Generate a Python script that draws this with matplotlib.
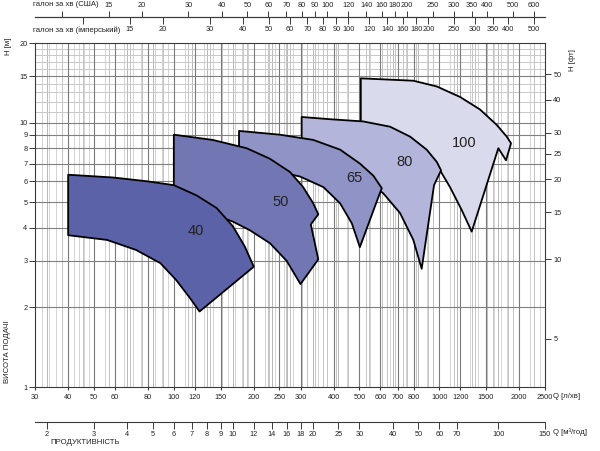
import matplotlib
matplotlib.use("Agg")
import matplotlib.pyplot as plt
from matplotlib.ticker import NullLocator

plt.rcParams['font.family'] = ['Liberation Sans', 'DejaVu Sans']

# unit conversions
L_PER_USGAL = 3.78541
L_PER_IMPGAL = 4.54609
LMIN_PER_M3H = 1000 / 60
FT_PER_M = 3.28084

# pump regions: Q [l/min], H [m], outline from top-left corner clockwise
q_40 = [40, 59, 79, 100, 122, 145, 167, 185, 200, 125, 115, 102, 89, 72, 56, 40]
h_40 = [6.35, 6.2, 6.0, 5.8, 5.3, 4.75, 4.05, 3.4, 2.85, 1.93, 2.17, 2.54, 2.94, 3.3, 3.6, 3.75]

q_50 = [100, 140, 188, 230, 274, 307, 335, 350, 328, 350, 300, 266, 230, 193, 167, 125, 100]
h_50 = [9.0, 8.6, 8.0, 7.3, 6.5, 5.7, 4.95, 4.5, 4.12, 3.04, 2.45, 3.0, 3.5, 3.92, 4.22, 4.7, 5.1]

q_65 = [176, 251, 335, 423, 502, 564, 607, 584, 502, 468, 423, 366, 299, 251, 176]
h_65 = [9.3, 9.0, 8.6, 7.9, 7.0, 6.3, 5.65, 5.1, 3.38, 4.16, 4.95, 5.7, 6.25, 6.5, 6.9]

q_80 = [303, 387, 517, 652, 776, 896, 978, 1015, 955, 858, 798, 711, 615, 548, 423, 303]
h_80 = [10.5, 10.3, 10.1, 9.65, 8.85, 7.9, 7.1, 6.6, 5.8, 2.8, 3.6, 4.55, 5.4, 5.9, 6.4, 6.9]

q_100 = [506, 798, 978, 1197, 1424, 1645, 1794, 1862, 1783, 1668, 1324, 1214, 1097, 1006, 711, 506]
h_100 = [14.7, 14.4, 13.7, 12.5, 11.2, 9.8, 8.85, 8.35, 7.2, 8.0, 3.87, 4.67, 5.7, 6.6, 7.2, 7.9]

pump_names = ["100", "80", "65", "50", "40"]
pump_q = [q_100, q_80, q_65, q_50, q_40]
pump_h = [h_100, h_80, h_65, h_50, h_40]
pump_colors = ["#D9DAEC", "#B4B5DA", "#9093C5", "#7277B4", "#5B62A8"]
label_q = [1240, 742, 477, 253, 121]
label_h = [8.4, 7.1, 6.15, 5.0, 3.9]

# axis ticks
q_ticks = [30, 40, 50, 60, 80, 100, 120, 150, 200, 250, 300, 400, 500, 600, 700, 800,
           1000, 1200, 1500, 2000, 2500]
h_ticks = [1, 2, 3, 4, 5, 6, 7, 8, 9, 10, 15, 20]
ft_ticks = [5, 10, 15, 20, 25, 30, 40, 50]
m3h_ticks = [2, 3, 4, 5, 6, 7, 8, 9, 10, 12, 14, 16, 18, 20, 25, 30, 40, 50, 60, 70, 100, 150]
usgal_ticks = [10, 15, 20, 30, 40, 50, 60, 70, 80, 90, 100, 120, 140, 160, 180, 200,
               250, 300, 350, 400, 500, 600]
impgal_ticks = [10, 15, 20, 30, 40, 50, 60, 70, 80, 90, 100, 120, 140, 160, 180, 200,
                250, 300, 350, 400, 500]

# grid lines
grid_q_light = [32, 34, 36, 38, 42, 44, 46, 48, 55, 65, 70, 75, 85, 90, 95, 110, 130, 140,
                160, 170, 180, 190, 220, 240, 260, 280, 350, 450, 550, 650, 750, 900,
                1100, 1300, 1400, 1600, 1700, 1800, 1900, 2200, 2400]
grid_h_dark = [2, 3, 4, 5, 6, 7, 8, 9, 10, 15]
grid_h_light = [11, 12, 13, 14, 16, 17, 18, 19]

W, H = 600, 451
fig = plt.figure(figsize=(W / 100, H / 100), dpi=100)
X0, X1, Y0, Y1 = 35, 545, 43, 387
ax = fig.add_axes([X0 / W, 1 - Y1 / H, (X1 - X0) / W, (Y1 - Y0) / H])
ax.set_xscale('log')
ax.set_yscale('log')
ax.set_xlim(30, 2500)
ax.set_ylim(1, 20)

line_col = '#3a3a3a'
txt_col = '#222222'
tick_fs = 5.3

# grid
for q in grid_q_light:
    ax.axvline(q, color='#d4d4d4', lw=0.7, zorder=0)
for q in m3h_ticks:
    ax.axvline(q * LMIN_PER_M3H, color='#b8b8b8', lw=0.7, zorder=0)
for q in usgal_ticks:
    ax.axvline(q * L_PER_USGAL, color='#c4c4c4', lw=0.7, zorder=0)
for q in impgal_ticks:
    ax.axvline(q * L_PER_IMPGAL, color='#c4c4c4', lw=0.7, zorder=0)
for q in q_ticks[1:-1]:
    ax.axvline(q, color='#7a7a7a', lw=0.8, zorder=0.5)
for h in grid_h_light:
    ax.axhline(h, color='#c8c8c8', lw=0.7, zorder=0)
for h in grid_h_dark:
    ax.axhline(h, color='#808080', lw=0.8, zorder=0.5)

# pump regions
for i, (name, q, h, c) in enumerate(zip(pump_names, pump_q, pump_h, pump_colors)):
    ax.fill(q, h, facecolor=c, edgecolor='black', lw=1.3, zorder=2 + i, joinstyle='round')
    ax.text(label_q[i], label_h[i], name, fontsize=10.5, ha='center', va='center',
            color=txt_col, zorder=10)

for s in ax.spines.values():
    s.set_color(line_col)
    s.set_linewidth(0.8)

ax.set_xticks(q_ticks, [str(v) for v in q_ticks])
ax.set_yticks(h_ticks, [str(v) for v in h_ticks])
ax.xaxis.set_minor_locator(NullLocator())
ax.yaxis.set_minor_locator(NullLocator())
ax.tick_params(axis='x', length=2, pad=3, labelsize=tick_fs, colors=line_col,
               labelcolor=txt_col)
ax.tick_params(axis='y', length=4, pad=1.5, labelsize=tick_fs, width=0.7, colors=line_col,
               labelcolor=txt_col)

# right axis in feet
ax2 = ax.twinx()
ax2.set_yscale('log')
ax2.set_ylim(1 * FT_PER_M, 20 * FT_PER_M)
ax2.set_yticks(ft_ticks, [str(v) for v in ft_ticks])
ax2.yaxis.set_minor_locator(NullLocator())
ax2.tick_params(axis='y', length=4, pad=2, labelsize=tick_fs, width=0.7, colors=line_col,
                labelcolor=txt_col)
for s in ax2.spines.values():
    s.set_visible(False)


def scale_axis(ypix, unit, ticks, side, tick_len, hide_ten):
    a = fig.add_axes([X0 / W, 1 - ypix / H, (X1 - X0) / W, 1e-4])
    a.patch.set_visible(False)
    a.set_xscale('log')
    a.set_xlim(30 / unit, 2500 / unit)
    a.set_yticks([])
    for k, s in a.spines.items():
        s.set_visible(k == side)
        s.set_color(line_col)
        s.set_linewidth(0.8)
    a.xaxis.set_ticks_position(side)
    labels = ['' if (v == 10 and hide_ten) else str(v) for v in ticks]
    a.set_xticks(ticks, labels)
    a.xaxis.set_minor_locator(NullLocator())
    a.tick_params(axis='x', direction='out', length=tick_len, pad=1.5, labelsize=tick_fs,
                  width=0.7, colors=line_col, labelcolor=txt_col)
    return a


scale_axis(17, L_PER_USGAL, usgal_ticks, 'top', 4, True)
scale_axis(17, L_PER_IMPGAL, impgal_ticks, 'bottom', 5, True)
scale_axis(422, LMIN_PER_M3H, m3h_ticks, 'bottom', 5, False)


def ftext(x, y, s, **kw):
    fig.text(x / W, 1 - y / H, s, fontsize=5.6, color=txt_col, **kw)


ftext(33, 5, 'галон за хв (США)', ha='left', va='center')
ftext(33, 30, 'галон за хв (імперський)', ha='left', va='center')
ftext(553, 397, 'Q [л/хв]', ha='left', va='center')
ftext(553, 432, 'Q [м³/год]', ha='left', va='center')
ftext(50, 443, 'ПРОДУКТИВНІСТЬ', ha='left', va='center')
ftext(8, 352, 'ВИСОТА ПОДАЧІ', ha='center', va='center', rotation=90)
ftext(8, 46, 'H [м]', ha='center', va='center', rotation=90)
ftext(573, 60, 'H [фт]', ha='center', va='center', rotation=90)

fig.savefig('out.png', dpi=100)
